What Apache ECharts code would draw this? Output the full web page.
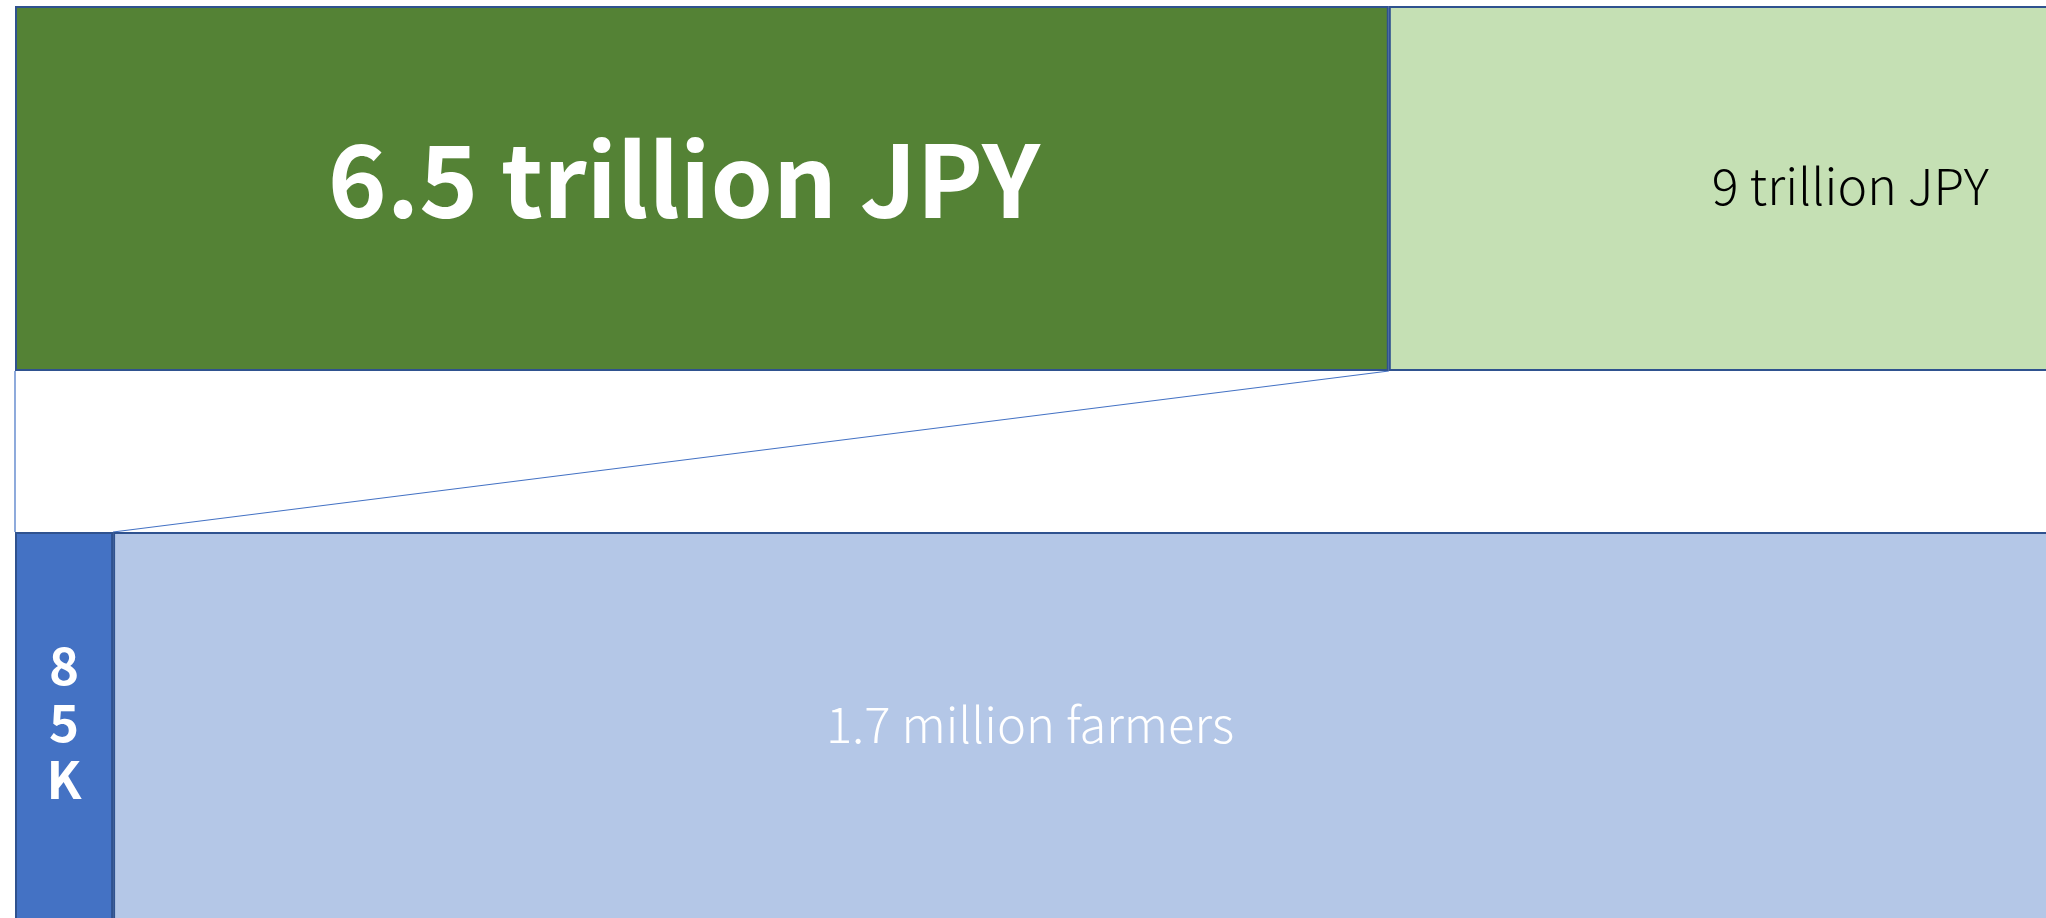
<!DOCTYPE html>
<html>
<head>
<meta charset="utf-8">
<title>Revenue vs farmers</title>
<script src="https://cdn.jsdelivr.net/npm/echarts@6/dist/echarts.min.js"></script>
<style>
    html, body { margin: 0; padding: 0; background: #fff; }
    #chart-box { width: 2046px; height: 918px; }
</style>
</head>
<body>
<div id="chart-box"></div>
<script>
// top bar: revenue, trillion JPY
let revenueCategories = ["Revenue"]
let revenueValues = [6.5, 9]
let revenueLabels = ["6.5 trillion JPY", "9 trillion JPY"]

// bottom bar: farmers, thousands
let farmerCategories = ["Farmers"]
let farmerValues = [85, 1700]
let farmerLabels = ["85K", "1.7 million farmers"]

let borderColor = "#2F528F"
let lineColor = "#4472C4"
let fontName = "Noto Sans CJK JP"

let sum = function (arr) {
    return arr.reduce(function (a, b) { return a + b }, 0)
}

let chartBox = document.getElementById("chart-box")
let chart = echarts.init(chartBox)

let option = {
    animation: false,
    grid: [
        // both bars run past the edges of the picture
        { left: 15, top: 6, width: 3276, height: 365, outerBoundsMode: "none" },
        { left: 15, top: 532, width: 2060, height: 395, outerBoundsMode: "none" }
    ],
    xAxis: [
        { type: "value", gridIndex: 0, min: 0, max: sum(revenueValues), show: false },
        { type: "value", gridIndex: 1, min: 0, max: sum(farmerValues), show: false }
    ],
    yAxis: [
        { type: "category", gridIndex: 0, data: revenueCategories, show: false },
        { type: "category", gridIndex: 1, data: farmerCategories, show: false }
    ],
    series: [
        {
            name: revenueLabels[0],
            type: "bar",
            stack: "revenue",
            xAxisIndex: 0,
            yAxisIndex: 0,
            barWidth: "100%",
            data: [revenueValues[0]],
            itemStyle: { color: "#548235", borderColor: borderColor, borderWidth: 2 },
            label: {
                show: true,
                position: "inside",
                offset: [-18, -9],
                formatter: function () { return revenueLabels[0] },
                color: "#fff",
                fontFamily: fontName,
                fontWeight: "bold",
                fontSize: 100
            }
        },
        {
            name: revenueLabels[1],
            type: "bar",
            stack: "revenue",
            xAxisIndex: 0,
            yAxisIndex: 0,
            barWidth: "100%",
            data: [revenueValues[1]],
            itemStyle: { color: "#C5E0B4", borderColor: borderColor, borderWidth: 2 },
            label: {
                show: true,
                position: [323, "50%"],
                offset: [0, -3],
                align: "left",
                verticalAlign: "middle",
                formatter: function () { return revenueLabels[1] },
                color: "#000",
                fontFamily: fontName,
                fontWeight: 300,
                fontSize: 50
            }
        },
        {
            name: farmerLabels[0],
            type: "bar",
            stack: "farmers",
            xAxisIndex: 1,
            yAxisIndex: 1,
            barWidth: "100%",
            data: [farmerValues[0]],
            itemStyle: { color: "#4472C4", borderColor: borderColor, borderWidth: 2 },
            label: {
                show: true,
                position: "inside",
                offset: [0, -7],
                // narrow bar, so one character per line
                formatter: function () { return farmerLabels[0].split("").join("\n") },
                color: "#fff",
                fontFamily: fontName,
                fontWeight: "bold",
                fontSize: 51,
                lineHeight: 57
            }
        },
        {
            name: farmerLabels[1],
            type: "bar",
            stack: "farmers",
            xAxisIndex: 1,
            yAxisIndex: 1,
            barWidth: "100%",
            data: [farmerValues[1]],
            itemStyle: { color: "#B4C7E7", borderColor: borderColor, borderWidth: 2 },
            label: {
                show: true,
                position: "inside",
                offset: [-64, -5],
                formatter: function () { return farmerLabels[1] },
                color: "#fff",
                fontFamily: fontName,
                fontWeight: 300,
                fontSize: 49
            }
        }
    ]
}
chart.setOption(option)

// connector lines from the top bar's first part down to the bottom bar's first part
let gridRect = function (i) {
    return chart.getModel().getComponent("grid", i).coordinateSystem.getRect()
}
let topRect = gridRect(0)
let bottomRect = gridRect(1)
let topStart = chart.convertToPixel({ xAxisIndex: 0 }, 0)
let topEnd = chart.convertToPixel({ xAxisIndex: 0 }, revenueValues[0])
let bottomStart = chart.convertToPixel({ xAxisIndex: 1 }, 0)
let bottomEnd = chart.convertToPixel({ xAxisIndex: 1 }, farmerValues[0])
let y1 = topRect.y + topRect.height
let y2 = bottomRect.y

chart.setOption({
    graphic: [
        {
            type: "line",
            z: -1,
            shape: { x1: topStart, y1: y1, x2: bottomStart, y2: y2 },
            style: { stroke: lineColor, lineWidth: 1.2 }
        },
        {
            type: "line",
            z: -1,
            shape: { x1: topEnd, y1: y1, x2: bottomEnd, y2: y2 },
            style: { stroke: lineColor, lineWidth: 1.2 }
        }
    ]
})
</script>
</body>
</html>
